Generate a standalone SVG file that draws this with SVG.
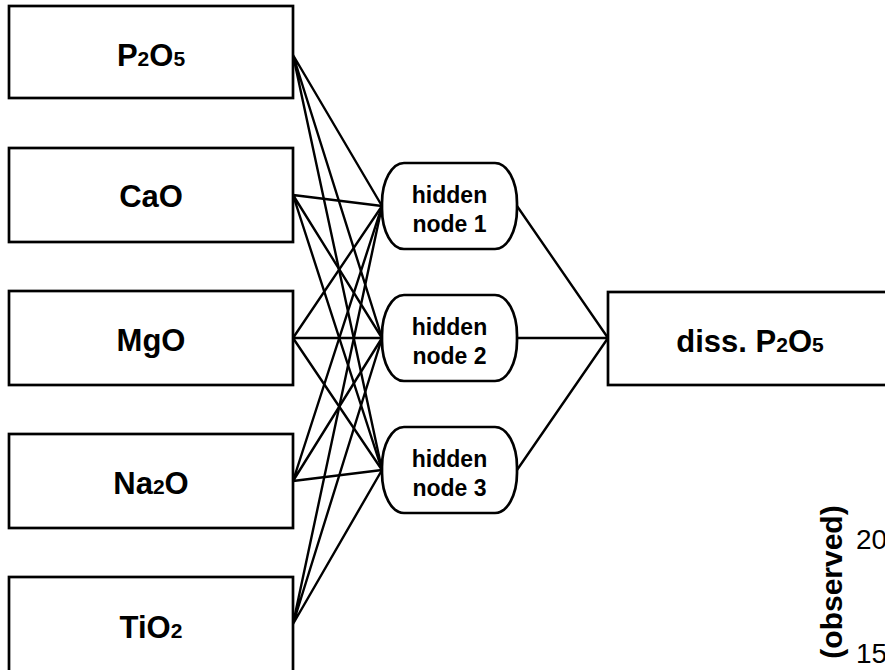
<svg xmlns="http://www.w3.org/2000/svg" width="885" height="670" viewBox="0 0 885 670">
<style>
.box{fill:#fff;stroke:#000;stroke-width:2.7}
.lbl{font-family:"Liberation Sans",Arial,Helvetica,sans-serif;font-weight:bold;font-size:31px;text-anchor:middle;fill:#000}
.sub{font-size:21px}
.hid{font-family:"Liberation Sans",Arial,Helvetica,sans-serif;font-weight:bold;font-size:23px;text-anchor:middle;fill:#000}
.edge{stroke:#000;stroke-width:2.4;fill:none}
.axis{font-family:"Liberation Sans",Arial,Helvetica,sans-serif;font-size:28px;fill:#000}
</style>
<rect width="885" height="670" fill="#fff"/>
<g id="connectors">
<path class="edge" d="M293 55L382 206M293 55L382 338M293 55L382 470"/>
<path class="edge" d="M293 195L382 206M293 195L382 338M293 195L382 470"/>
<path class="edge" d="M293 338L382 206M293 338L382 338M293 338L382 470"/>
<path class="edge" d="M293 481L382 206M293 481L382 338M293 481L382 470"/>
<path class="edge" d="M293 624L382 206M293 624L382 338M293 624L382 470"/>
<path class="edge" d="M517 206L608 338M517 338L608 338M517 470L608 338"/>
</g>
<g id="in-p2o5"><rect class="box" x="9" y="6" width="284" height="92"/><text class="lbl" x="151" y="66">P<tspan class="sub">2</tspan>O<tspan class="sub">5</tspan></text></g>
<g id="in-cao"><rect class="box" x="9" y="148" width="284" height="94"/><text class="lbl" x="151" y="207">CaO</text></g>
<g id="in-mgo"><rect class="box" x="9" y="291" width="284" height="94"/><text class="lbl" x="151" y="351">MgO</text></g>
<g id="in-na2o"><rect class="box" x="9" y="434" width="284" height="94"/><text class="lbl" x="151" y="494">Na<tspan class="sub">2</tspan>O</text></g>
<g id="in-tio2"><rect class="box" x="9" y="577" width="284" height="96"/><text class="lbl" x="151" y="638">TiO<tspan class="sub">2</tspan></text></g>
<g id="hidden-1"><rect class="box" x="382" y="163" width="135" height="86" rx="22" ry="40"/><text class="hid" x="449.5" y="203">hidden</text><text class="hid" x="449.5" y="232">node 1</text></g>
<g id="hidden-2"><rect class="box" x="382" y="295" width="135" height="86" rx="22" ry="40"/><text class="hid" x="449.5" y="335">hidden</text><text class="hid" x="449.5" y="364">node 2</text></g>
<g id="hidden-3"><rect class="box" x="382" y="427" width="135" height="86" rx="22" ry="40"/><text class="hid" x="449.5" y="467">hidden</text><text class="hid" x="449.5" y="496">node 3</text></g>
<g id="output"><rect class="box" x="608" y="292" width="284" height="93"/><text class="lbl" x="750" y="352">diss. P<tspan class="sub">2</tspan>O<tspan class="sub">5</tspan></text></g>
<g id="chart-fragment">
<text class="lbl" transform="translate(842 582) rotate(-90)" style="font-size:30px">(observed)</text>
<text class="axis" x="856" y="549">20</text>
<text class="axis" x="856" y="663">15</text>
</g>
</svg>
